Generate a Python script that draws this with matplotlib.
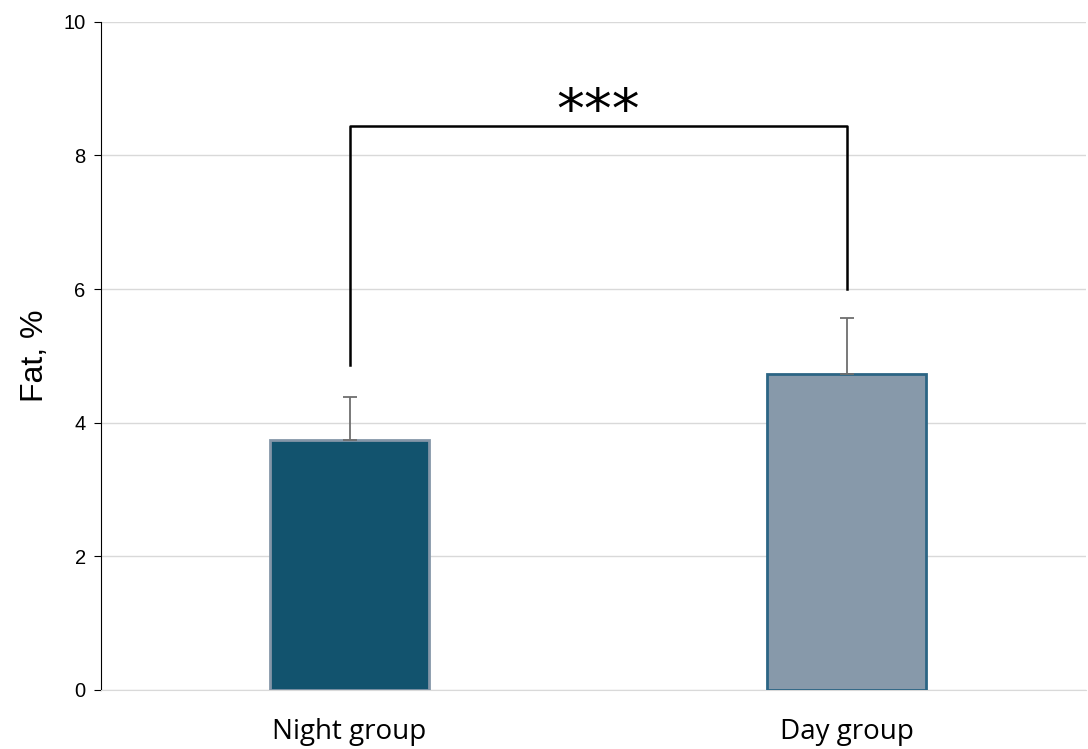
import matplotlib
matplotlib.use("Agg")
import matplotlib.pyplot as plt

categories = ["Night group", "Day group"]
values = [3.74, 4.73]
errors = [0.65, 0.84]
bracket_left = 4.86
bracket_right = 6.0
bracket_top = 8.44
sig_label = "***"

fig = plt.figure(figsize=(10.88, 7.49), dpi=100)
ax = fig.add_axes([0.0928, 0.0788, 0.905, 0.892])

x = [0, 1]
ax.bar(x, values, width=0.32, color=["#12536E", "#8799AA"],
       edgecolor=["#8496A8", "#2B6584"], linewidth=2, zorder=3)
ax.errorbar(x, values, yerr=[[0, 0], errors], fmt="none", ecolor="#6E6E6E",
            elinewidth=1.3, capsize=5, capthick=1.3, zorder=4)

ax.plot([0, 0, 1, 1], [bracket_left, bracket_top, bracket_top, bracket_right],
        color="black", linewidth=1.8, zorder=5)
ax.text(0.5, 8.64, sig_label, ha="center", va="center",
        fontsize=40, fontfamily="DejaVu Sans")

ax.set_ylim(0, 10)
ax.set_xlim(-0.5, 1.48)
ax.set_yticks([0, 2, 4, 6, 8, 10])
ax.yaxis.grid(True, color="#D9D9D9", linewidth=1, zorder=0)
ax.set_axisbelow(True)
for s in ["top", "right"]:
    ax.spines[s].set_visible(False)
ax.spines["bottom"].set_color("#D9D9D9")
ax.spines["left"].set_color("black")
ax.tick_params(axis="y", labelsize=14.5, length=5, direction="out", pad=6)
ax.tick_params(axis="x", length=0, labelsize=20, pad=20)
for lbl in ax.get_yticklabels():
    lbl.set_fontfamily("Liberation Sans")
ax.set_xticks(x)
ax.set_xticklabels(categories, fontfamily="Open Sans")
ax.set_ylabel("Fat, %", fontsize=23, fontfamily="Liberation Sans", labelpad=10)

fig.savefig("out.png", dpi=100)
